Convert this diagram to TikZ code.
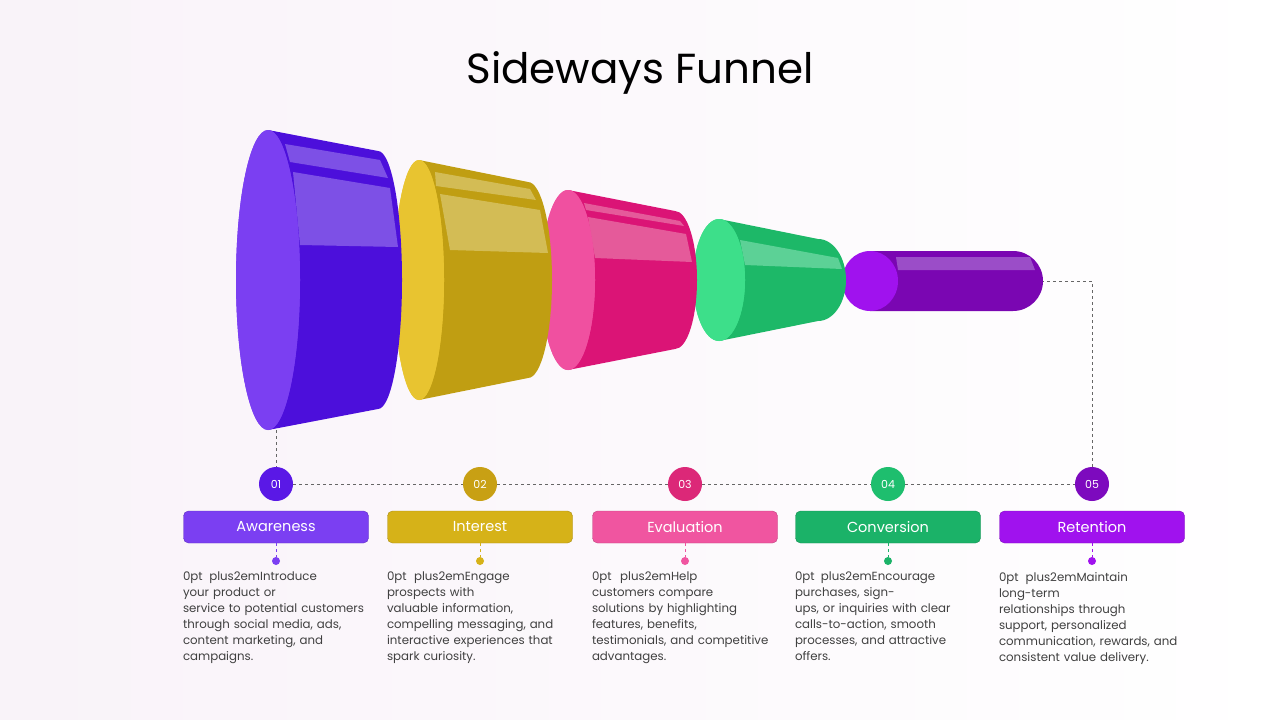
\documentclass[tikz,border=0pt]{standalone}
\usepackage{fontspec}
\setmainfont{Poppins}
\begin{document}
\begin{tikzpicture}[x=1pt,y=-1pt,
  numc/.style={circle,minimum size=34pt,inner sep=0pt,text=white,font=\fontsize{11}{12}\selectfont},
  lab/.style={rounded corners=5pt,minimum width=185pt,minimum height=32pt,inner sep=0pt,text=white,font=\fontsize{14.5}{16}\selectfont},
  desc/.style={align=center,text width=186pt,text=black!75,font=\fontsize{11.8}{16}\selectfont\hyphenpenalty=10000,anchor=north,inner sep=0pt},
  dotn/.style={circle,minimum size=8pt,inner sep=0pt},
  dl/.style={draw=black!60,dashed,line width=0.7pt}]
\path[left color=white!92!violet!60,right color=white] (0,0) rectangle (1280,720);
\useasboundingbox (0,0) rectangle (1280,720);
\node[font=\fontsize{42}{50}\selectfont] (title) at (640,73) {Sideways Funnel};
\newcommand{\seg}[9]{%
  \fill[#9] (#1,#2-#4) -- (#5,#2-#7) arc[start angle=-90,end angle=90,x radius=#6,y radius=#7] -- (#1,#2+#4) -- cycle;
  \fill[#8] (#1,#2) ellipse[x radius=#3,y radius=#4];}
% 5
\fill[color={rgb,255:red,122;green,6;blue,178}] (870,251) -- (1013,251) arc[start angle=-90,end angle=90,radius=30] -- (870,311) -- cycle;
\fill[color={rgb,255:red,155;green,77;blue,200}] (896,257) -- (1030,257) -- (1035,270) -- (898,270) -- cycle;
\fill[color={rgb,255:red,160;green,18;blue,238}] (870,281) ellipse[x radius=28,y radius=30];
% 4
\definecolor{f4}{RGB}{61,223,138}\definecolor{b4}{RGB}{29,184,104}\definecolor{h4}{RGB}{92,209,150}
\seg{719}{280}{26}{61}{818}{28}{41}{f4}{b4}
\fill[h4] (740,240) -- (838,258) -- (842,269) -- (745,265) -- cycle;
\fill[f4] (719,280) ellipse[x radius=26,y radius=61];
% 3
\definecolor{f3}{RGB}{240,80,160}\definecolor{b3}{RGB}{219,20,118}\definecolor{h3}{RGB}{229,90,154}
\seg{568}{280}{27}{90}{675}{22}{69}{f3}{b3}
\fill[h3] (584,203) -- (680,221) -- (684,226) -- (586,210) -- cycle;
\fill[h3] (588,217) -- (686,234) -- (692,262) -- (595,258) -- cycle;
\fill[f3] (568,280) ellipse[x radius=27,y radius=90];
% 2
\definecolor{f2}{RGB}{232,196,48}\definecolor{b2}{RGB}{192,158,18}\definecolor{h2}{RGB}{211,188,85}
\seg{419}{280}{25}{120}{528}{24}{98}{f2}{b2}
\fill[h2] (435,172) -- (530,189) -- (536,200) -- (436,186) -- cycle;
\fill[h2] (440,194) -- (540,210) -- (548,253) -- (450,250) -- cycle;
\fill[f2] (419,280) ellipse[x radius=25,y radius=120];
% 1
\definecolor{f1}{RGB}{123,63,242}\definecolor{b1}{RGB}{76,15,219}\definecolor{h1}{RGB}{125,80,230}
\seg{268}{280}{32}{150}{378}{24}{129}{f1}{b1}
\fill[h1] (285,144) -- (380,160) -- (388,178) -- (290,162) -- cycle;
\fill[h1] (293,172) -- (390,188) -- (398,247) -- (300,245) -- cycle;
\fill[f1] (268,280) ellipse[x radius=32,y radius=150];
\coordinate (f1b) at (276,430);
\coordinate (f5r) at (1043,281);
\coordinate (cr) at (1092,281);
% bottom
\definecolor{c1}{RGB}{90,24,230}\definecolor{l1}{RGB}{123,63,242}
\definecolor{c2}{RGB}{200,160,20}\definecolor{l2}{RGB}{214,178,24}
\definecolor{c3}{RGB}{220,40,120}\definecolor{l3}{RGB}{240,85,160}
\definecolor{c4}{RGB}{30,190,110}\definecolor{l4}{RGB}{27,178,104}
\definecolor{c5}{RGB}{125,10,190}\definecolor{l5}{RGB}{160,18,238}
\foreach \i/\x/\t/\d in {1/276/Awareness/{Introduce your product or\\service to potential customers\\through social media, ads,\\content marketing, and\\campaigns.},
 2/480/Interest/{Engage prospects with\\valuable information,\\compelling messaging, and\\interactive experiences that\\spark curiosity.},
 3/685/Evaluation/{Help customers compare\\solutions by highlighting\\features, benefits,\\testimonials, and competitive\\advantages.},
 4/888/Conversion/{Encourage purchases, sign-\\ups, or inquiries with clear\\calls-to-action, smooth\\processes, and attractive\\offers.},
 5/1092/Retention/{Maintain long-term\\relationships through\\support, personalized\\communication, rewards, and\\consistent value delivery.}}{
  \node[numc,fill=c\i] (n\i) at (\x,484) {0\i};
  \node[lab,fill=l\i,draw=l\i!80!black] (b\i) at (\x,527) {\t};
  \node[dotn,fill=l\i] (d\i) at (\x,561) {};
  \draw[l\i,dashed,line width=0.8pt] (b\i) -- (d\i);
  \node[desc] (t\i) at (\x,572) {\d};
}
\draw[dl] (f1b) -- (n1);
\draw[dl] (n1) -- (n2); \draw[dl] (n2) -- (n3); \draw[dl] (n3) -- (n4); \draw[dl] (n4) -- (n5);
\draw[dl] (n5) -- (cr) -- (f5r);
\end{tikzpicture}
\end{document}
